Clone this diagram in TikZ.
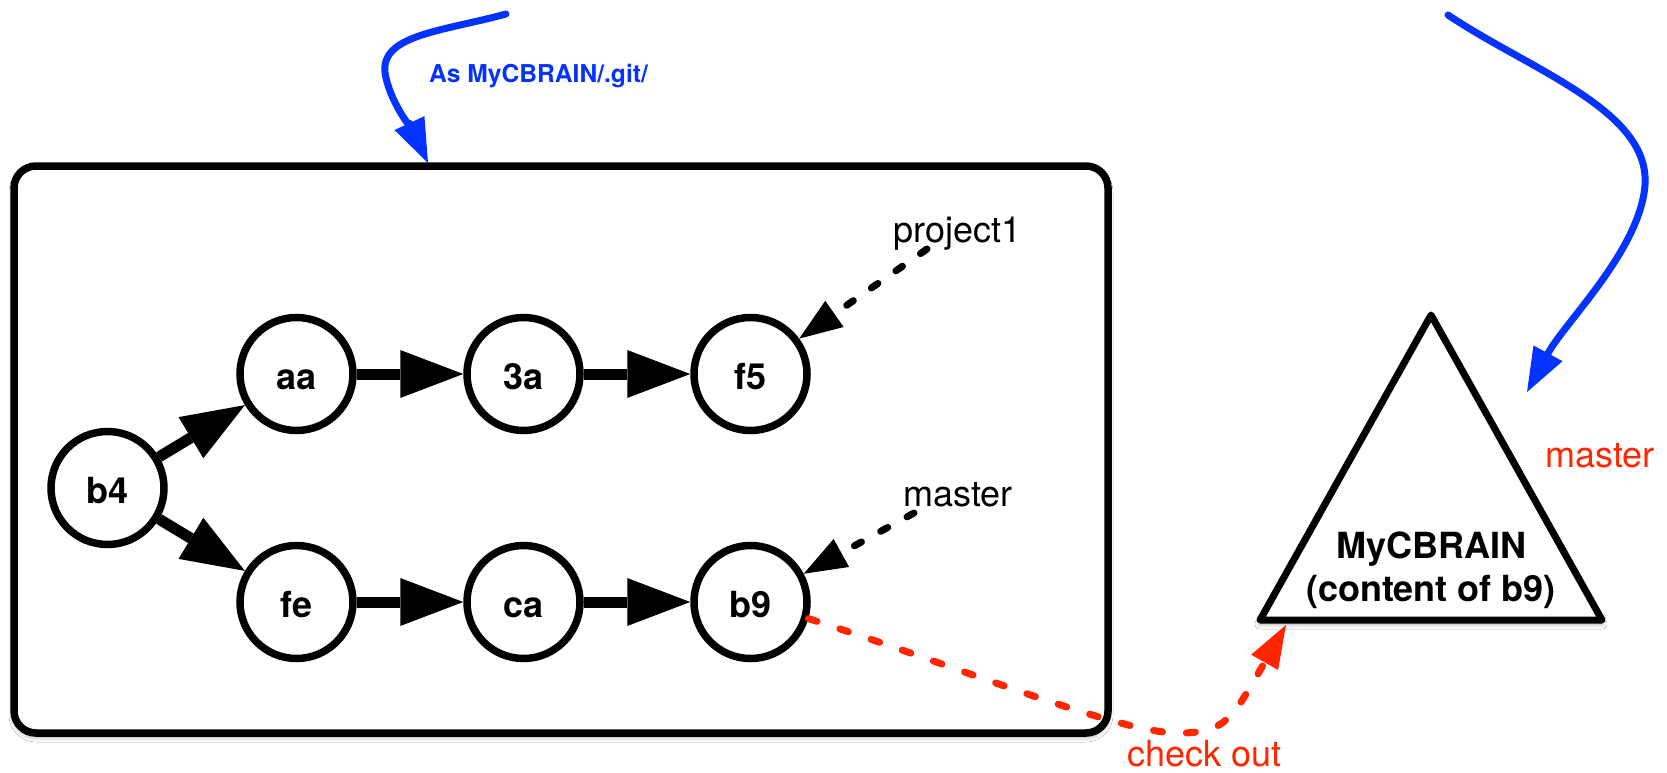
\documentclass[tikz,border=0pt]{standalone}
\usepackage{fontspec}
\setmainfont{TeX Gyre Heros}
\usetikzlibrary{arrows.meta,shadows.blur}
\definecolor{ogblue}{HTML}{0433FF}
\definecolor{ogred}{HTML}{FF2600}
\tikzset{
  commit/.style={circle, draw, line width=7.5pt, minimum size=113pt, inner sep=0pt,
    font=\fontsize{36}{40}\selectfont\bfseries, text height=30pt, text depth=0pt},
  parentarrow/.style={line width=11pt, opacity=1,
    -{Triangle[length=63pt,width=48pt,line width=0pt,fill=black,color=black]}},
  refline/.style={line width=7pt, line cap=round, dash pattern=on 8pt off 22pt, opacity=1,
    -{Triangle[length=43pt,width=32pt,line width=0pt,fill=black,color=black]}},
  bluearrow/.style={ogblue, line width=7pt, line cap=round, opacity=1,
    -{Triangle[length=44pt,width=33pt,line width=0pt,fill=ogblue,color=ogblue]}},
  tlabel/.style={font=\fontsize{36}{40}\selectfont, inner sep=0pt, anchor=base west},
  tshadow/.style={blur shadow={shadow xshift=0pt, shadow yshift=-4pt,
    shadow blur radius=5pt, shadow opacity=35}},
}
\begin{document}
\begin{tikzpicture}[x=1pt,y=-1pt]
\useasboundingbox[fill=white] (0,0) rectangle (1667,773);

% repository box
\draw[line width=7.5pt, rounded corners=22pt, fill=white, tshadow] (14,166) rectangle (1108,733);

% commits
\node[commit] (b4) at (107.5,488) {b4};
\node[commit] (aa) at (296.5,374) {aa};
\node[commit] (3a) at (523.5,374) {3a};
\node[commit] (f5) at (750.5,374) {f5};
\node[commit] (fe) at (296.5,602) {fe};
\node[commit] (ca) at (523.5,602) {ca};
\node[commit] (b9) at (750.5,602) {b9};

\draw[parentarrow] (b4) -- (aa);
\draw[parentarrow] (b4) -- (fe);
\draw[parentarrow] (aa) -- (3a);
\draw[parentarrow] (3a) -- (f5);
\draw[parentarrow] (fe) -- (ca);
\draw[parentarrow] (ca) -- (b9);

% branch labels
\node[tlabel] (p1) at (893,242) {project1};
\node[tlabel] (mst) at (903,506) {master};
\coordinate (p1s) at (927,249);
\coordinate (ms) at (914,513);
\draw[refline] (p1s) -- (f5.36);
\draw[refline] (ms) -- (b9.28);

% working tree triangle
\coordinate (tA) at (1431,315);
\coordinate (tR) at (1602,620);
\coordinate (tL) at (1260,620);
\draw[line width=7pt, line join=round, fill=white, tshadow] (tA) -- (tR) -- (tL) -- cycle;
\node[font=\fontsize{36}{40}\selectfont\bfseries, inner sep=0pt, anchor=base] (wt1) at (1431,558) {MyCBRAIN};
\node[font=\fontsize{36}{40}\selectfont\bfseries, inner sep=0pt, anchor=base] (wt2) at (1431,601) {(content of b9)};
\node[tlabel, ogred] (rm) at (1545,467) {master};

% check out
\coordinate (co) at (1286,625);
\draw[refline, ogred, dash pattern=on 9pt off 24pt,
  -{Triangle[length=43pt,width=31pt,line width=0pt,fill=ogred,color=ogred]}]
  (b9.-16) .. controls (954,665) and (1118,733) .. (1178,733)
  .. controls (1225,733) and (1231,721) .. (co);
\node[tlabel, ogred] (col) at (1127,766) {check out};

% blue arrows
\coordinate (g1s) at (506,14);
\coordinate (g1e) at (428,163);
\draw[bluearrow] (g1s) .. controls (440,32) and (375,35) .. (386,78)
  .. controls (392,105) and (415,135) .. (g1e);
\node[font=\fontsize{24.6}{28}\selectfont\bfseries, text=ogblue, inner sep=0pt, anchor=base west] (gl) at (429,83) {As MyCBRAIN/.git/};

\coordinate (g2s) at (1448,15);
\coordinate (g2e) at (1527,392);
\draw[bluearrow] (g2s) .. controls (1530,70) and (1650,110) .. (1645,185)
  .. controls (1640,250) and (1565,322) .. (g2e);
\end{tikzpicture}
\end{document}
